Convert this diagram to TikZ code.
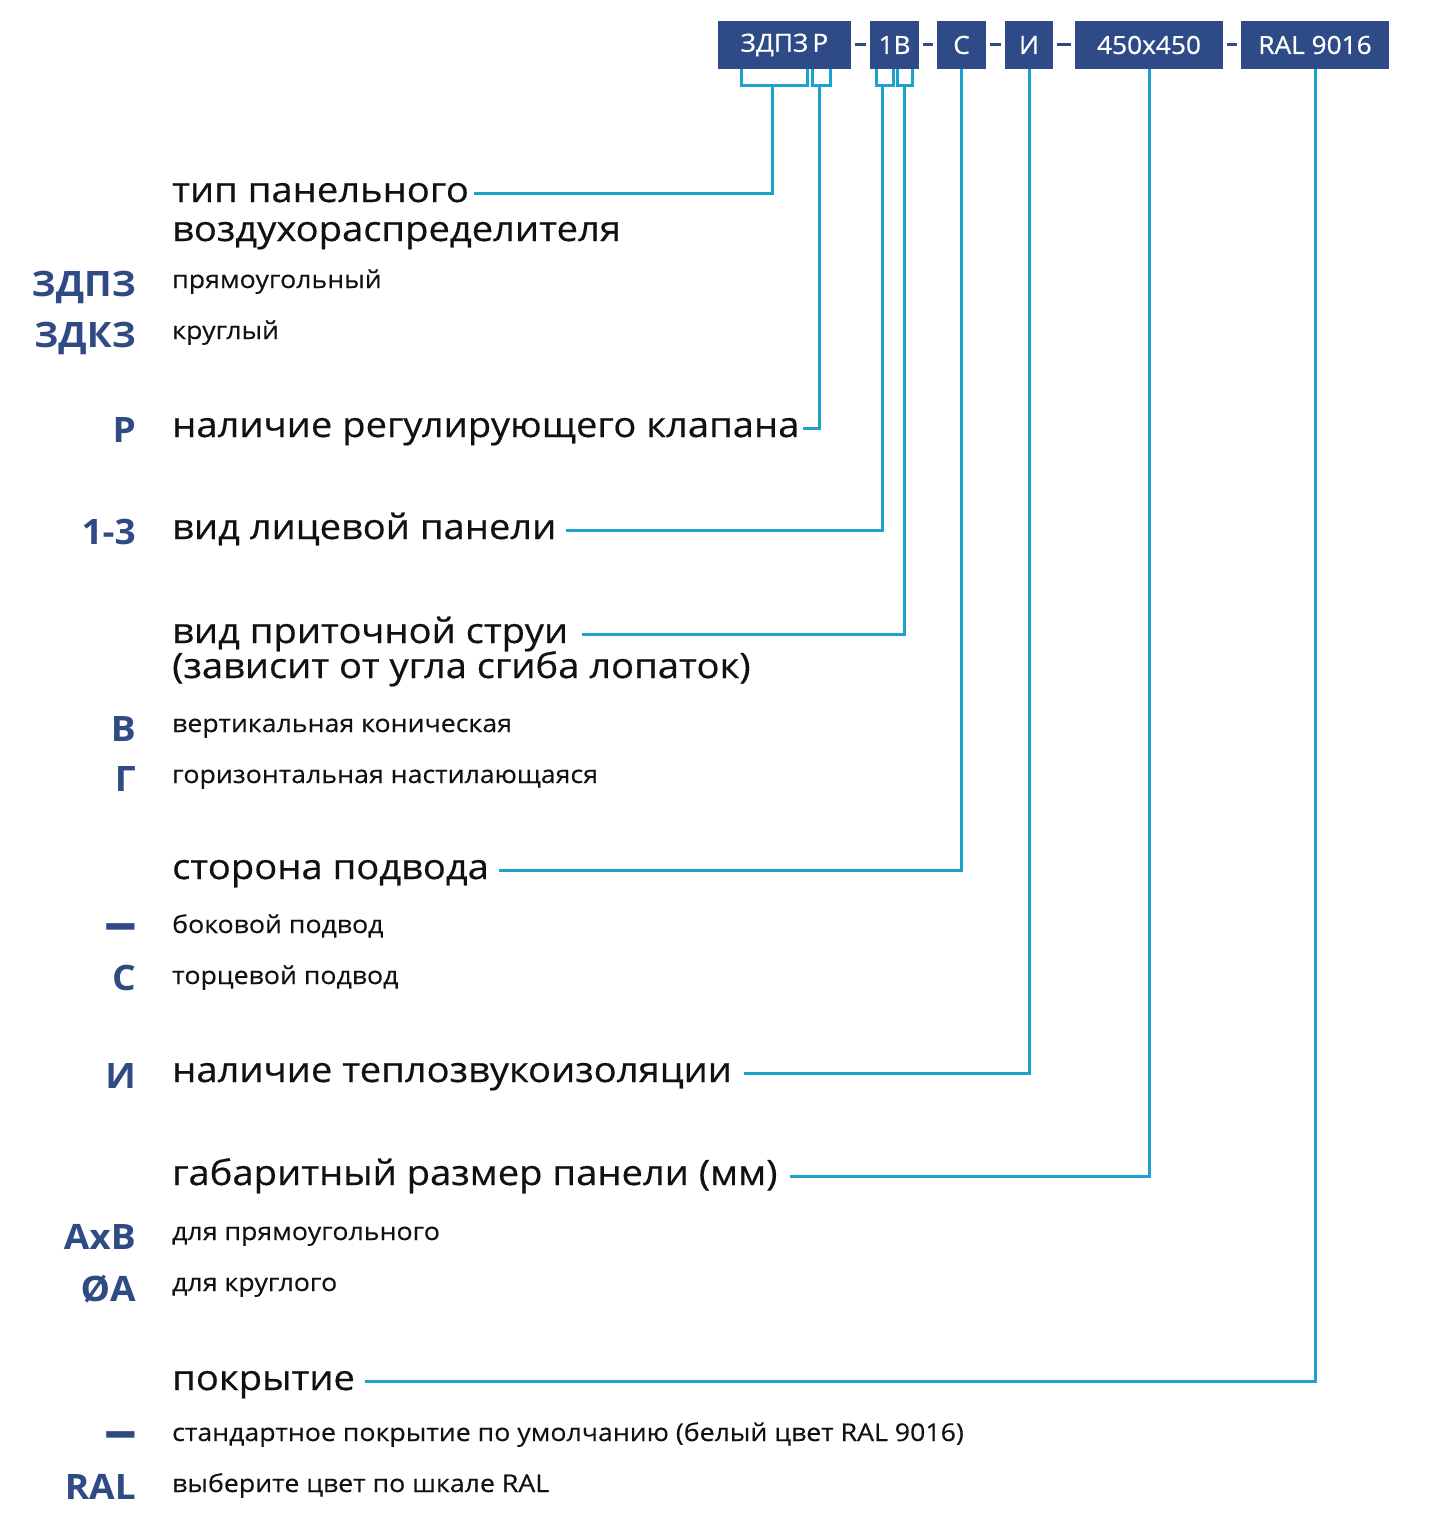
\documentclass[tikz,border=0pt]{standalone}
\usepackage{fontspec}
\setmainfont{Open Sans}[FakeStretch=1.09, FakeBold=0.5]
\newfontfamily\subfont{Open Sans}[FakeStretch=1.09, FakeBold=0.3]
\newfontfamily\codefont{Open Sans}[FakeStretch=1.06]
\newfontfamily\boxfont{Open Sans}[FakeStretch=1.05, FakeBold=0.7]
\definecolor{boxblue}{RGB}{46,74,135}
\definecolor{codeblue}{RGB}{48,74,132}
\definecolor{leadcyan}{RGB}{27,163,207}
\definecolor{txt}{RGB}{17,17,17}
\begin{document}
\begin{tikzpicture}[x=1pt,y=-1pt,
  main/.style={anchor=base west, inner sep=0pt, font=\fontsize{35}{42}\selectfont, text=txt},
  sub/.style={anchor=base west, inner sep=0pt, font=\subfont\fontsize{24.5}{30}\selectfont, text=txt},
  code/.style={anchor=base east, inner sep=0pt, font=\codefont\bfseries\fontsize{35}{42}\selectfont, text=codeblue},
  codedash/.style={anchor=base east, inner sep=0pt, font=\codefont\bfseries\fontsize{29}{35}\selectfont, text=codeblue},
  codebox/.style={fill=boxblue, text=white, minimum height=48, inner sep=0pt, font=\boxfont\fontsize{25}{29}\selectfont},
  lead/.style={draw=leadcyan, line width=3pt},
  sep/.style={draw=boxblue, line width=3pt, shorten <=4pt, shorten >=4pt}]
\useasboundingbox (0,0) rectangle (1452,1536);

% code boxes
\node[codebox, minimum width=133] (bA) at (784.5,45) {ЗДПЗ\,Р};
\node[codebox, minimum width=49] (bB) at (894.5,45) {1В};
\node[codebox, minimum width=49] (bC) at (961.5,45) {С};
\node[codebox, minimum width=48] (bI) at (1029,45) {И};
\node[codebox, minimum width=148] (bS) at (1149,45) {450x450};
\node[codebox, minimum width=148] (bR) at (1315,45) {RAL 9016};
\draw[sep] (bA) -- (bB);
\draw[sep] (bB) -- (bC);
\draw[sep] (bC) -- (bI);
\draw[sep] (bI) -- (bS);
\draw[sep] (bS) -- (bR);

% labels
\node[main] (tip) at (172,202) {тип панельного};
\node[main] (tip2) at (172,241) {воздухораспределителя};
\node[code] (c1) at (136,296) {ЗДПЗ};
\node[sub] (s1) at (172,288) {прямоугольный};
\node[code] (c2) at (136,347) {ЗДКЗ};
\node[sub] (s2) at (172,339) {круглый};
\node[code] (c3) at (136,442) {Р};
\node[main] (reg) at (172,437) {наличие регулирующего клапана};
\node[code] (c4) at (136,544) {1-3};
\node[main] (lic) at (172,539) {вид лицевой панели};
\node[main] (str) at (172,643) {вид приточной струи};
\node[main] (str2) at (172,678) {(зависит от угла сгиба лопаток)};
\node[code] (c5) at (136,741) {В};
\node[sub] (s5) at (172,732) {вертикальная коническая};
\node[code] (c6) at (136,791) {Г};
\node[sub] (s6) at (172,783) {горизонтальная настилающаяся};
\node[main] (sto) at (172,879) {сторона подвода};
\node[codedash] (c7) at (136,942) {\scalebox{1}[2]{—}};
\node[sub] (s7) at (172,933) {боковой подвод};
\node[code] (c8) at (136,990) {С};
\node[sub] (s8) at (172,984) {торцевой подвод};
\node[code] (c9) at (136,1088) {И};
\node[main] (iso) at (172,1082) {наличие теплозвукоизоляции};
\node[main] (gab) at (172,1185) {габаритный размер панели (мм)};
\node[code] (c10) at (136,1249) {АхВ};
\node[sub] (s10) at (172,1240) {для прямоугольного};
\node[code] (c11) at (136,1301) {ØА};
\node[sub] (s11) at (172,1291) {для круглого};
\node[main] (pok) at (172,1390) {покрытие};
\node[codedash] (c12) at (136,1450) {\scalebox{1}[2]{—}};
\node[sub] (s12) at (172,1441) {стандартное покрытие по умолчанию (белый цвет RAL 9016)};
\node[code] (c13) at (136,1499) {RAL};
\node[sub] (s13) at (172,1492) {выберите цвет по шкале RAL};

% brackets
\coordinate (b1l) at (741,86); \coordinate (b1r) at (807,86); \coordinate (k1) at (772,86);
\coordinate (b2l) at (812,86); \coordinate (b2r) at (830,86); \coordinate (k2) at (819,86);
\coordinate (b3l) at (876,86); \coordinate (b3r) at (893,86); \coordinate (k3) at (882,86);
\coordinate (b4l) at (897,86); \coordinate (b4r) at (912,86); \coordinate (k4) at (904,86);
\draw[lead] (b1l |- bA.south) -- (b1l) -- (b1r) -- (b1r |- bA.south);
\draw[lead] (b2l |- bA.south) -- (b2l) -- (b2r) -- (b2r |- bA.south);
\draw[lead] (b3l |- bB.south) -- (b3l) -- (b3r) -- (b3r |- bB.south);
\draw[lead] (b4l |- bB.south) -- (b4l) -- (b4r) -- (b4r |- bB.south);

% leader lines
\coordinate (e1) at ([shift={(5,-9)}]tip.base east);
\coordinate (e2) at ([shift={(3,-9)}]reg.base east);
\coordinate (e3) at ([shift={(9,-9)}]lic.base east);
\coordinate (e4) at ([shift={(14,-9)}]str.base east);
\coordinate (e5) at ([shift={(10,-9)}]sto.base east);
\coordinate (e6) at ([shift={(12,-9)}]iso.base east);
\coordinate (e7) at ([shift={(12,-9)}]gab.base east);
\coordinate (e8) at ([shift={(10,-9)}]pok.base east);
\draw[lead] (k1) |- (e1);
\draw[lead] (k2) |- (e2);
\draw[lead] (k3) |- (e3);
\draw[lead] (k4) |- (e4);
\draw[lead] (bC.south) |- (e5);
\draw[lead] (bI.south) |- (e6);
\draw[lead] (bS.south) |- (e7);
\draw[lead] (bR.south) |- (e8);
\end{tikzpicture}
\end{document}
